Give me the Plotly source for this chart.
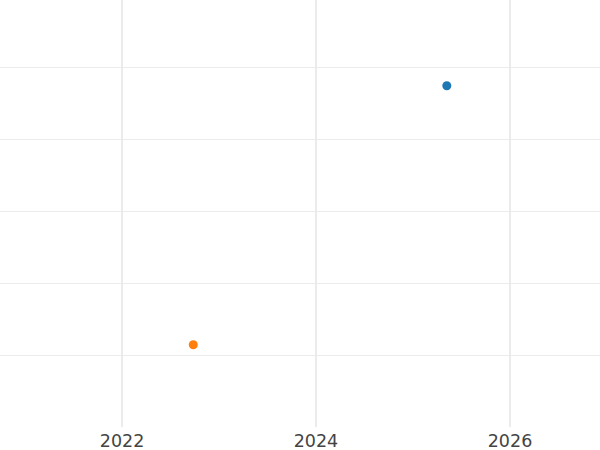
import plotly.graph_objects as go

series_names = ["A", "B"]
x_dates = [["2025-05-08"], ["2022-09-26"]]
y_values = [[4.74], [1.143]]
colors = ["#1f77b4", "#ff7f0e"]

fig = go.Figure()
for name, xs, ys, c in zip(series_names, x_dates, y_values, colors):
    fig.add_trace(go.Scatter(x=xs, y=ys, mode="markers", name=name,
                             marker=dict(color=c, size=9)))

fig.update_layout(
    width=600, height=450,
    margin=dict(l=0, r=0, t=0, b=23, pad=0),
    paper_bgcolor="white", plot_bgcolor="white",
    showlegend=False,
    font=dict(family="DejaVu Sans", color="#444"),
)
fig.update_xaxes(type="date", range=["2020-09-28", "2026-12-06"],
                 tickvals=["2022-01-01", "2024-01-01", "2026-01-01"],
                 ticktext=["2022", "2024", "2026"],
                 showgrid=True, gridcolor="#ebebeb", gridwidth=2,
                 zeroline=False, showline=False, ticks="",
                 tickfont=dict(size=17.5), ticklabelstandoff=1,
                 automargin=False)
fig.update_yaxes(range=[0, 5.9306], tickvals=[1, 2, 3, 4, 5],
                 showticklabels=False, showgrid=True, gridcolor="#ebebeb",
                 gridwidth=1, zeroline=False, showline=False, ticks="",
                 automargin=False)
fig.write_html("out.html",
               config={"displayModeBar": False},
               post_script="document.body.style.margin='0';document.body.style.overflow='hidden';")
